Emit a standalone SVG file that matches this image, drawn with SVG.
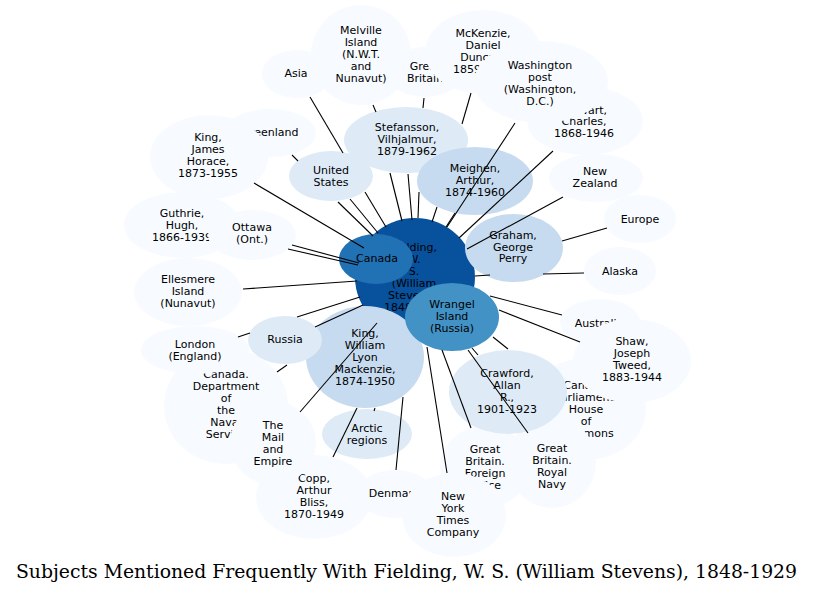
<svg xmlns="http://www.w3.org/2000/svg" width="815" height="593" viewBox="0 0 815 593">
<style>
.c0{fill:#f7fbff}
.c1{fill:#deebf7}
.c2{fill:#c6dbef}
.c5{fill:#4292c6}
.c6{fill:#2171b5}
.c7{fill:#08519c}
text{font-family:"DejaVu Sans","Liberation Sans",sans-serif;font-size:11px;text-anchor:middle;fill:#000}
.e line{stroke:#000;stroke-width:1.1}
.title{font-family:"DejaVu Serif","Liberation Serif",serif;font-stretch:condensed;font-size:18px}
</style>
<rect width="815" height="593" fill="#fff"/>
<g id="nodes">
<g id="n-asia"><ellipse class="c0" cx="297" cy="74" rx="35" ry="24"/><text><tspan x="296" y="77">Asia</tspan></text></g>
<g id="n-greenland"><ellipse class="c0" cx="270" cy="133" rx="46" ry="24"/><text><tspan x="270" y="136">Greenland</tspan></text></g>
<g id="n-kingjh"><ellipse class="c0" cx="209" cy="157" rx="59" ry="42"/><text><tspan x="208" y="141">King,</tspan><tspan x="208" y="153">James</tspan><tspan x="208" y="165">Horace,</tspan><tspan x="208" y="177">1873-1955</tspan></text></g>
<g id="n-gb"><ellipse class="c0" cx="425" cy="72" rx="38" ry="25"/><text><tspan x="425" y="70">Great</tspan><tspan x="425" y="82">Britain</tspan></text></g>
<g id="n-melville"><ellipse class="c0" cx="361" cy="55" rx="50" ry="50"/><text><tspan x="361" y="34">Melville</tspan><tspan x="361" y="46">Island</tspan><tspan x="361" y="58">(N.W.T.</tspan><tspan x="361" y="70">and</tspan><tspan x="361" y="82">Nunavut)</tspan></text></g>
<g id="n-mckenzie"><ellipse class="c0" cx="483" cy="52" rx="58" ry="42"/><text><tspan x="483" y="37">McKenzie,</tspan><tspan x="483" y="49">Daniel</tspan><tspan x="483" y="61">Duncan,</tspan><tspan x="483" y="73">1859-1927</tspan></text></g>
<g id="n-stewart"><ellipse class="c0" cx="585" cy="121" rx="58" ry="34"/><text><tspan x="584" y="114">Stewart,</tspan><tspan x="584" y="125">Charles,</tspan><tspan x="584" y="137">1868-1946</tspan></text></g>
<g id="n-washington"><ellipse class="c0" cx="541" cy="82" rx="67" ry="41"/><text><tspan x="540" y="69">Washington</tspan><tspan x="540" y="81">post</tspan><tspan x="540" y="93">(Washington,</tspan><tspan x="540" y="105">D.C.)</tspan></text></g>
<g id="n-stefansson"><ellipse class="c1" cx="406" cy="140" rx="62" ry="33"/><text><tspan x="407" y="131">Stefansson,</tspan><tspan x="407" y="143">Vilhjalmur,</tspan><tspan x="407" y="155">1879-1962</tspan></text></g>
<g id="n-meighen"><ellipse class="c2" cx="475" cy="181" rx="58" ry="34"/><text><tspan x="475" y="172">Meighen,</tspan><tspan x="475" y="184">Arthur,</tspan><tspan x="475" y="196">1874-1960</tspan></text></g>
<g id="n-us"><ellipse class="c1" cx="331" cy="176" rx="42" ry="25"/><text><tspan x="331" y="174">United</tspan><tspan x="331" y="186">States</tspan></text></g>
<g id="n-nz"><ellipse class="c0" cx="596" cy="178" rx="47" ry="24"/><text><tspan x="595" y="175">New</tspan><tspan x="595" y="187">Zealand</tspan></text></g>
<g id="n-europe"><ellipse class="c0" cx="640" cy="219" rx="36" ry="24"/><text><tspan x="640" y="223">Europe</tspan></text></g>
<g id="n-guthrie"><ellipse class="c0" cx="182" cy="225" rx="58" ry="33"/><text><tspan x="182" y="217">Guthrie,</tspan><tspan x="182" y="229">Hugh,</tspan><tspan x="182" y="241">1866-1939</tspan></text></g>
<g id="n-ottawa"><ellipse class="c0" cx="252" cy="235" rx="44" ry="25"/><text><tspan x="252" y="231">Ottawa</tspan><tspan x="252" y="243">(Ont.)</tspan></text></g>
<g id="n-ellesmere"><ellipse class="c0" cx="188" cy="292" rx="54" ry="34"/><text><tspan x="188" y="283">Ellesmere</tspan><tspan x="188" y="295">Island</tspan><tspan x="188" y="307">(Nunavut)</tspan></text></g>
<g id="n-alaska"><ellipse class="c0" cx="620" cy="271" rx="36" ry="24"/><text><tspan x="620" y="275">Alaska</tspan></text></g>
<g id="n-fielding"><ellipse class="c7" cx="415" cy="277" rx="60" ry="59"/><text><tspan x="414" y="251">Fielding,</tspan><tspan x="414" y="263">W.</tspan><tspan x="414" y="275">S.</tspan><tspan x="414" y="287">(William</tspan><tspan x="414" y="299">Stevens),</tspan><tspan x="414" y="311">1848-1929</tspan></text></g>
<g id="n-canada"><ellipse class="c6" cx="376" cy="259" rx="37" ry="25"/><text><tspan x="377" y="262">Canada</tspan></text></g>
<g id="n-graham"><ellipse class="c2" cx="514" cy="248" rx="49" ry="34"/><text><tspan x="513" y="239">Graham,</tspan><tspan x="513" y="251">George</tspan><tspan x="513" y="262">Perry</tspan></text></g>
<g id="n-kingwlm"><ellipse class="c2" cx="365" cy="357" rx="59" ry="51"/><text><tspan x="365" y="337">King,</tspan><tspan x="365" y="349">William</tspan><tspan x="365" y="361">Lyon</tspan><tspan x="365" y="373">Mackenzie,</tspan><tspan x="365" y="385">1874-1950</tspan></text></g>
<g id="n-wrangel"><ellipse class="c5" cx="452" cy="317" rx="47" ry="34"/><text><tspan x="452" y="308">Wrangel</tspan><tspan x="452" y="320">Island</tspan><tspan x="452" y="332">(Russia)</tspan></text></g>
<g id="n-australia"><ellipse class="c0" cx="600" cy="322" rx="40" ry="23"/><text><tspan x="599" y="327">Australia</tspan></text></g>
<g id="n-parliament"><ellipse class="c0" cx="586" cy="409" rx="60" ry="51"/><text><tspan x="586" y="389">Canada.</tspan><tspan x="586" y="401">Parliament.</tspan><tspan x="586" y="413">House</tspan><tspan x="586" y="425">of</tspan><tspan x="586" y="437">Commons</tspan></text></g>
<g id="n-shaw"><ellipse class="c0" cx="632" cy="361" rx="59" ry="42"/><text><tspan x="632" y="345">Shaw,</tspan><tspan x="632" y="357">Joseph</tspan><tspan x="632" y="369">Tweed,</tspan><tspan x="632" y="381">1883-1944</tspan></text></g>
<g id="n-navy"><ellipse class="c0" cx="552" cy="462" rx="44" ry="46"/><text><tspan x="552" y="452">Great</tspan><tspan x="552" y="464">Britain.</tspan><tspan x="552" y="476">Royal</tspan><tspan x="552" y="488">Navy</tspan></text></g>
<g id="n-foreign"><ellipse class="c0" cx="485" cy="467" rx="45" ry="41"/><text><tspan x="485" y="453">Great</tspan><tspan x="485" y="465">Britain.</tspan><tspan x="485" y="477">Foreign</tspan><tspan x="485" y="489">Office</tspan></text></g>
<g id="n-crawford"><ellipse class="c1" cx="508" cy="392" rx="59" ry="42"/><text><tspan x="507" y="377">Crawford,</tspan><tspan x="507" y="389">Allan</tspan><tspan x="507" y="401">R.,</tspan><tspan x="507" y="413">1901-1923</tspan></text></g>
<g id="n-naval"><ellipse class="c0" cx="226" cy="406" rx="62" ry="58"/><text><tspan x="226" y="378">Canada.</tspan><tspan x="226" y="390">Department</tspan><tspan x="226" y="402">of</tspan><tspan x="226" y="414">the</tspan><tspan x="226" y="426">Naval</tspan><tspan x="226" y="438">Service</tspan></text></g>
<g id="n-london"><ellipse class="c0" cx="195" cy="350" rx="54" ry="24"/><text><tspan x="195" y="348">London</tspan><tspan x="195" y="360">(England)</tspan></text></g>
<g id="n-russia"><ellipse class="c1" cx="285" cy="340" rx="37" ry="24"/><text><tspan x="285" y="343">Russia</tspan></text></g>
<g id="n-arctic"><ellipse class="c1" cx="367" cy="434" rx="45" ry="25"/><text><tspan x="367" y="432">Arctic</tspan><tspan x="367" y="444">regions</tspan></text></g>
<g id="n-copp"><ellipse class="c0" cx="314" cy="497" rx="58" ry="42"/><text><tspan x="314" y="482">Copp,</tspan><tspan x="314" y="494">Arthur</tspan><tspan x="314" y="506">Bliss,</tspan><tspan x="314" y="518">1870-1949</tspan></text></g>
<g id="n-mail"><ellipse class="c0" cx="273" cy="443" rx="43" ry="42"/><text><tspan x="273" y="429">The</tspan><tspan x="273" y="441">Mail</tspan><tspan x="273" y="453">and</tspan><tspan x="273" y="465">Empire</tspan></text></g>
<g id="n-denmark"><ellipse class="c0" cx="395" cy="494" rx="38" ry="24"/><text><tspan x="394" y="497">Denmark</tspan></text></g>
<g id="n-nyt"><ellipse class="c0" cx="454" cy="515" rx="52" ry="42"/><text><tspan x="453" y="500">New</tspan><tspan x="453" y="512">York</tspan><tspan x="453" y="524">Times</tspan><tspan x="453" y="536">Company</tspan></text></g>
</g>
<g id="connectors" class="e">
<line x1="310" y1="97" x2="343" y2="153"/>
<line x1="365" y1="192" x2="386" y2="227"/>
<line x1="292" y1="155" x2="298" y2="161"/>
<line x1="338" y1="202" x2="373" y2="236"/>
<line x1="350" y1="199" x2="378" y2="233"/>
<line x1="254" y1="183" x2="364" y2="248"/>
<line x1="373" y1="105" x2="376" y2="112"/>
<line x1="390" y1="173" x2="402" y2="221"/>
<line x1="424" y1="98" x2="423" y2="108"/>
<line x1="408" y1="174" x2="412" y2="220"/>
<line x1="419" y1="192" x2="418" y2="218"/>
<line x1="471" y1="93" x2="462" y2="124"/>
<line x1="437" y1="207" x2="432" y2="222"/>
<line x1="515" y1="123" x2="447" y2="227"/>
<line x1="455" y1="213" x2="446" y2="227"/>
<line x1="553" y1="151" x2="459" y2="238"/>
<line x1="563" y1="197" x2="467" y2="249"/>
<line x1="562" y1="241" x2="607" y2="228"/>
<line x1="475" y1="276" x2="490" y2="275"/>
<line x1="543" y1="274" x2="584" y2="273"/>
<line x1="490" y1="296" x2="562" y2="315"/>
<line x1="499" y1="310" x2="580" y2="342"/>
<line x1="493" y1="337" x2="508" y2="349"/>
<line x1="472" y1="348" x2="478" y2="355"/>
<line x1="468" y1="350" x2="528" y2="433"/>
<line x1="442" y1="350" x2="471" y2="428"/>
<line x1="427" y1="347" x2="447" y2="473"/>
<line x1="403" y1="397" x2="396" y2="470"/>
<line x1="375" y1="408" x2="374" y2="411"/>
<line x1="357" y1="408" x2="333" y2="457"/>
<line x1="377" y1="323" x2="300" y2="412"/>
<line x1="277" y1="372" x2="287" y2="365"/>
<line x1="238" y1="337" x2="250" y2="333"/>
<line x1="297" y1="317" x2="360" y2="297"/>
<line x1="315" y1="327" x2="363" y2="305"/>
<line x1="243" y1="289" x2="357" y2="281"/>
<line x1="288" y1="249" x2="358" y2="265"/>
<line x1="292" y1="245" x2="359" y2="263"/>
</g>
<text class="title" x="406.5" y="578" textLength="781" lengthAdjust="spacingAndGlyphs">Subjects Mentioned Frequently With Fielding, W. S. (William Stevens), 1848-1929</text>
</svg>
